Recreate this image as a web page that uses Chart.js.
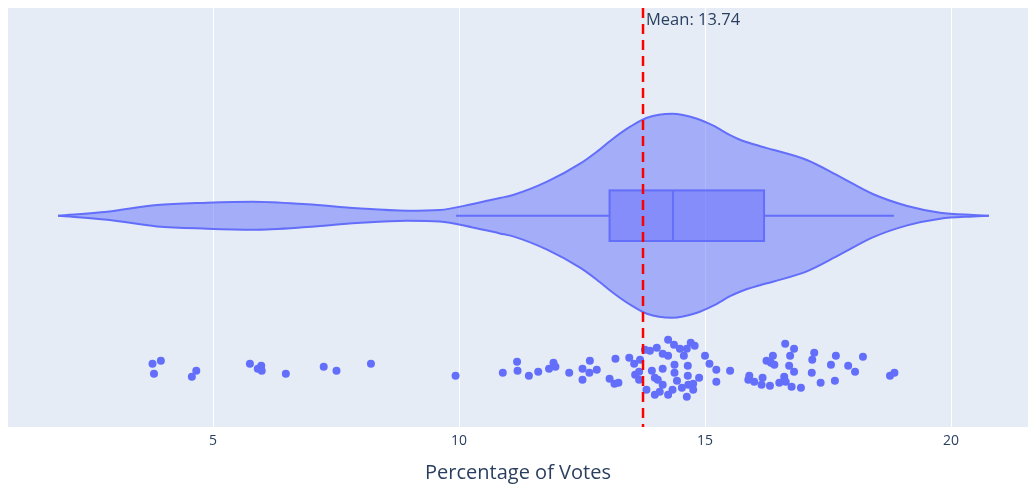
<!DOCTYPE html>
<html><head><meta charset="utf-8">
<script src="https://cdn.jsdelivr.net/npm/chart.js@4.4.1/dist/chart.umd.min.js"></script>
<style>html,body{margin:0;padding:0;background:#fff;overflow:hidden;}#wrap{width:1028px;height:485px;position:relative;}canvas{display:block;}</style>
</head><body><div id="wrap"><canvas id="c" width="1028" height="485"></canvas></div>
<script>
// ---- data ----
const tickValues = [5, 10, 15, 20];
const axisTitle = 'Percentage of Votes';
const meanValue = 13.74;
const meanLabel = 'Mean: 13.74';

// violin outline: x positions and density half-width (relative units)
const violinX = [1.85, 2.85, 3.86, 4.88, 5.81, 6.91, 7.93, 8.94, 9.61, 10.28, 10.83, 11.10, 11.79, 12.46, 12.80, 13.13, 13.48, 13.82, 14.33, 14.84, 15.17, 15.51, 15.71, 16.12, 16.38, 17.07, 17.74, 18.41, 19.11, 19.78, 20.45, 20.77];
const violinHalfWidth = [0, 0.04, 0.107, 0.13, 0.14, 0.114, 0.074, 0.05, 0.057, 0.117, 0.177, 0.207, 0.34, 0.52, 0.64, 0.77, 0.89, 0.98, 1.02, 0.97, 0.90, 0.805, 0.76, 0.695, 0.66, 0.557, 0.39, 0.217, 0.097, 0.03, 0.007, 0];

// box statistics
const boxStats = [9.94, 13.06, 14.35, 16.20, 18.84]; // lower whisker, q1, median, q3, upper whisker

// individual points (value, jitter position)
const pointValues = [3.77, 3.94, 3.80, 4.66, 4.57, 5.75, 5.98, 5.91, 5.99, 6.48, 7.25, 7.51, 8.21, 9.93, 10.89, 11.18, 11.19, 11.42, 11.61, 11.83, 11.92, 11.96, 12.24, 12.51, 12.66, 12.65, 12.80, 12.51, 13.06, 13.16, 13.24, 13.18, 13.46, 13.56, 13.68, 13.58, 13.66, 13.66, 13.78, 13.88, 14.02, 14.14, 14.25, 14.25, 14.37, 14.49, 14.57, 14.63, 14.71, 14.79, 13.92, 14.14, 13.98, 14.04, 14.14, 14.38, 14.38, 14.43, 14.65, 14.65, 14.53, 14.66, 14.76, 14.76, 14.88, 13.81, 13.98, 14.08, 14.25, 14.34, 14.63, 15.00, 15.09, 15.23, 15.23, 15.51, 15.88, 15.90, 16.00, 16.17, 16.15, 16.32, 16.51, 16.61, 16.64, 16.76, 16.95, 16.63, 16.81, 16.38, 16.25, 16.34, 16.41, 16.73, 16.71, 16.81, 17.22, 17.18, 17.17, 17.66, 17.56, 17.91, 18.21, 18.05, 17.35, 17.64, 18.76, 18.85];
const pointJitter = [-1.48, -1.45, -1.58, -1.55, -1.61, -1.48, -1.50, -1.53, -1.55, -1.58, -1.51, -1.55, -1.48, -1.60, -1.57, -1.46, -1.55, -1.60, -1.56, -1.53, -1.47, -1.51, -1.57, -1.53, -1.45, -1.57, -1.54, -1.64, -1.63, -1.68, -1.67, -1.43, -1.42, -1.48, -1.44, -1.59, -1.56, -1.64, -1.34, -1.35, -1.32, -1.38, -1.40, -1.24, -1.29, -1.33, -1.40, -1.33, -1.27, -1.30, -1.55, -1.53, -1.62, -1.64, -1.69, -1.49, -1.57, -1.65, -1.50, -1.60, -1.72, -1.69, -1.68, -1.74, -1.62, -1.74, -1.79, -1.76, -1.79, -1.74, -1.81, -1.40, -1.48, -1.54, -1.66, -1.55, -1.64, -1.60, -1.66, -1.62, -1.69, -1.70, -1.67, -1.61, -1.66, -1.71, -1.72, -1.28, -1.33, -1.40, -1.45, -1.47, -1.49, -1.40, -1.50, -1.56, -1.37, -1.44, -1.57, -1.40, -1.49, -1.50, -1.41, -1.56, -1.67, -1.65, -1.60, -1.57];

// ---- chart ----
const X_RANGE = [0.833, 21.565];
const Y_RANGE = [-2.113, 2.077];
const BOX_HALF = 0.253;
const LINE = '#636efa';
const FILL = 'rgba(99,110,250,0.5)';
const TEXT = '#2a3f5f';

const upper = violinX.map((x, i) => ({x, y: violinHalfWidth[i]}));
const lower = violinX.map((x, i) => ({x, y: -violinHalfWidth[i]}));
const pts = pointValues.map((x, i) => ({x, y: pointJitter[i]}));

const bgPlugin = {
  id: 'bg',
  beforeDraw(chart) {
    const {ctx, chartArea: a} = chart;
    ctx.save();
    ctx.fillStyle = '#E5ECF6';
    ctx.fillRect(a.left, a.top, a.right - a.left, a.bottom - a.top);
    ctx.restore();
  }
};

const boxPlugin = {
  id: 'boxmean',
  afterDatasetsDraw(chart) {
    const {ctx, chartArea: a, scales: {x, y}} = chart;
    const [lw, q1, med, q3, uw] = boxStats;
    const yc = y.getPixelForValue(0);
    const yt = y.getPixelForValue(BOX_HALF);
    const yb = y.getPixelForValue(-BOX_HALF);
    ctx.save();
    ctx.strokeStyle = LINE;
    ctx.lineWidth = 2;
    ctx.beginPath();
    ctx.moveTo(x.getPixelForValue(lw), yc); ctx.lineTo(x.getPixelForValue(q1), yc);
    ctx.moveTo(x.getPixelForValue(q3), yc); ctx.lineTo(x.getPixelForValue(uw), yc);
    ctx.stroke();
    const x1 = x.getPixelForValue(q1), x3 = x.getPixelForValue(q3);
    ctx.fillStyle = FILL;
    ctx.fillRect(x1, yt, x3 - x1, yb - yt);
    ctx.strokeRect(x1, yt, x3 - x1, yb - yt);
    const xm = x.getPixelForValue(med);
    ctx.beginPath(); ctx.moveTo(xm, yt); ctx.lineTo(xm, yb); ctx.stroke();
    const xmean = x.getPixelForValue(meanValue);
    ctx.strokeStyle = '#ff0000';
    ctx.lineWidth = 2.5;
    ctx.setLineDash([10, 6]);
    ctx.beginPath(); ctx.moveTo(xmean, a.top); ctx.lineTo(xmean, a.bottom); ctx.stroke();
    ctx.setLineDash([]);
    ctx.fillStyle = TEXT;
    ctx.font = '16.5px "Open Sans"';
    ctx.textAlign = 'left';
    ctx.textBaseline = 'middle';
    ctx.fillText(meanLabel, xmean + 3, a.top + 12);
    ctx.restore();
  }
};

new Chart(document.getElementById('c'), {
  type: 'scatter',
  data: {
    datasets: [
      {data: pts, backgroundColor: LINE, borderWidth: 0, pointRadius: 4, pointHoverRadius: 4},
      {data: upper, showLine: true, borderColor: LINE, borderWidth: 2, pointRadius: 0, fill: '+1', backgroundColor: FILL, cubicInterpolationMode: 'monotone'},
      {data: lower, showLine: true, borderColor: LINE, borderWidth: 2, pointRadius: 0, fill: false, cubicInterpolationMode: 'monotone'}
    ]
  },
  options: {
    responsive: false,
    animation: false,
    devicePixelRatio: 1,
    layout: {autoPadding: false, padding: {left: 8, top: 8, right: 0, bottom: 0}},
    plugins: {legend: {display: false}, tooltip: {enabled: false}},
    scales: {
      x: {
        type: 'linear', min: X_RANGE[0], max: X_RANGE[1],
        afterBuildTicks: s => { s.ticks = tickValues.map(v => ({value: v})); },
        afterFit: s => { s.height = 58; },
        grid: {color: '#ffffff', lineWidth: 1, drawTicks: false},
        border: {display: false},
        ticks: {color: TEXT, font: {family: 'Open Sans', size: 14}, padding: 6, maxRotation: 0},
        title: {display: true, text: axisTitle, color: TEXT, font: {family: 'Open Sans', size: 20}, padding: {top: 0, bottom: 0}}
      },
      y: {type: 'linear', min: Y_RANGE[0], max: Y_RANGE[1], display: false}
    }
  },
  plugins: [bgPlugin, boxPlugin]
});
</script></body></html>
